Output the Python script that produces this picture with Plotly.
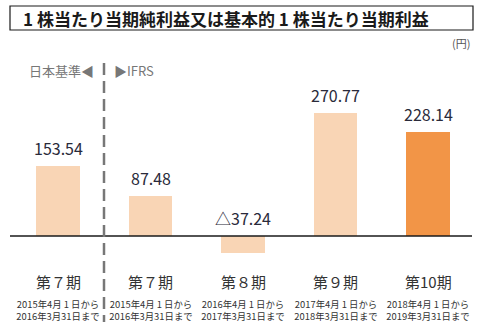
import plotly.graph_objects as go

# Earnings per share by fiscal period (yen)
periods = ["第７期", "第７期", "第８期", "第９期", "第10期"]
date_from = ["2015年4月 1 日から", "2015年4月 1 日から", "2016年4月 1 日から",
             "2017年4月 1 日から", "2018年4月 1 日から"]
date_to = ["2016年3月31日まで", "2016年3月31日まで", "2017年3月31日まで",
           "2018年3月31日まで", "2019年3月31日まで"]
eps = [153.54, 87.48, -37.24, 270.77, 228.14]

W, H = 480, 333
FONT = "Noto Sans CJK JP"
LIGHT = "#F9D5B5"
DARK = "#F29547"

def py(pix):
    """Pixel row -> paper y."""
    return 1 - pix / H

def px(pix):
    return pix / W

idx = list(range(len(eps)))
colors = [LIGHT] * (len(eps) - 1) + [DARK]

fig = go.Figure()
fig.add_trace(go.Bar(
    x=idx, y=eps, width=0.465, marker=dict(color=colors, line=dict(width=0)),
    hoverinfo="skip",
))

annotations = []
for i, v in enumerate(eps):
    label = f"{v:.2f}" if v >= 0 else f"△{abs(v):.2f}"
    annotations.append(dict(
        x=i, y=max(v, 0), xref="x", yref="y", text=label, showarrow=False,
        yanchor="bottom", yshift=4, font=dict(family=FONT, size=16, color="#2a2a3a"),
    ))
    annotations.append(dict(
        x=i, y=py(293), xref="x", yref="paper", text=periods[i], showarrow=False,
        yanchor="bottom", borderpad=0, font=dict(family=FONT, size=15, color="#333333"),
    ))
    annotations.append(dict(
        x=i, y=py(296), xref="x", yref="paper",
        text=f"{date_from[i]}<br>{date_to[i]}", showarrow=False, borderpad=0,
        width=88, yanchor="top", font=dict(family=FONT, size=9.4, color="#333333"),
    ))

# Title, unit and accounting-standard markers
annotations += [
    dict(x=px(21), y=py(18), xref="paper", yref="paper", xanchor="left", yanchor="middle",
         text="<b>1 株当たり当期純利益又は基本的 1 株当たり当期利益</b>", showarrow=False,
         font=dict(family=FONT, size=17, color="#1a1a1a")),
    dict(x=px(472), y=py(43), xref="paper", yref="paper", xanchor="right", yanchor="middle",
         text="(円)", showarrow=False, font=dict(family=FONT, size=11, color="#555555")),
    dict(x=px(96), y=py(71), xref="paper", yref="paper", xanchor="right", yanchor="middle",
         text="日本基準◀", showarrow=False, font=dict(family=FONT, size=13, color="#777777")),
    dict(x=px(112), y=py(71), xref="paper", yref="paper", xanchor="left", yanchor="middle",
         text="▶IFRS", showarrow=False, font=dict(family=FONT, size=13, color="#777777")),
]

shapes = [
    dict(type="rect", xref="paper", yref="paper", x0=px(10), x1=px(473), y0=py(30), y1=py(6),
         line=dict(color="#1a1a1a", width=1.2)),
    dict(type="line", xref="paper", yref="y", x0=px(10), x1=px(472), y0=0, y1=0,
         line=dict(color="#1a1a1a", width=1.5)),
    dict(type="line", xref="paper", yref="paper", x0=px(104), x1=px(104), y0=py(63), y1=py(322),
         line=dict(color="#777777", width=2.5, dash="12px,6px")),
]

step = 92.5
first = 58
fig.update_layout(
    width=W, height=H, margin=dict(l=0, r=0, t=0, b=0),
    paper_bgcolor="white", plot_bgcolor="white", showlegend=False,
    xaxis=dict(range=[-first / step, (W - first) / step], visible=False),
    yaxis=dict(range=[-(H - 236) / (123 / 270.77), 236 / (123 / 270.77)], visible=False),
    annotations=annotations, shapes=shapes, bargap=0,
)

fig.write_html("out.html")
